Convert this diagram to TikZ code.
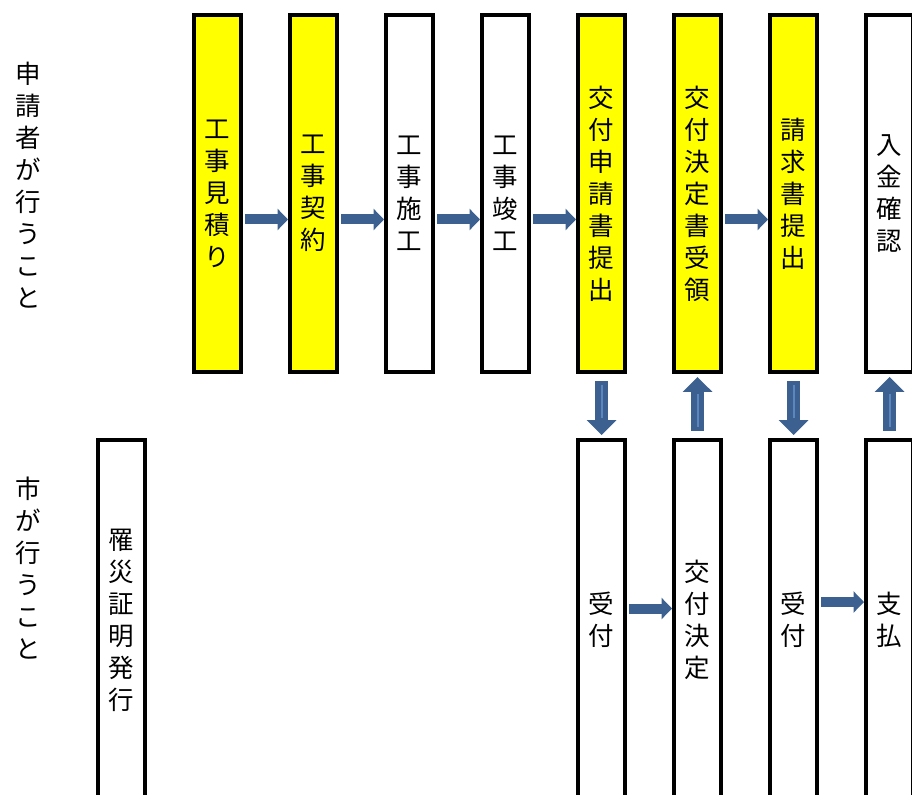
\documentclass[tikz,border=0pt]{standalone}
\usepackage{fontspec}
\newfontfamily\jpfont{Noto Sans CJK JP}
\usetikzlibrary{arrows.meta,positioning}

\definecolor{arrowblue}{HTML}{3C6191}
\definecolor{stripeblue}{HTML}{5C86BE}
\definecolor{boxyellow}{HTML}{FFFF00}

\tikzset{
  tatefont/.style={font=\jpfont\fontsize{14.5pt}{18.2pt}\selectfont},
  stepbox/.style={draw, line width=0.08cm, minimum width=0.94cm, inner sep=0pt, outer sep=0pt, align=center, tatefont},
  topbox/.style={stepbox, minimum height=7.14cm},
  citybox/.style={stepbox, minimum height=7.2cm},
  hot/.style={fill=boxyellow},
  rowtitle/.style={align=center, inner sep=0pt, tatefont},
  harrow/.style={arrowblue, line width=0.2cm, -{Triangle[width=0.42cm,length=0.21cm]}, shorten <=0.08cm, shorten >=0.04cm},
  varrow/.style={arrowblue, line width=0.26cm, -{Triangle[width=0.58cm,length=0.3cm]}, shorten <=0.18cm, shorten >=0.1cm},
  stripe/.style={stripeblue, line width=0.04cm, shorten <=0.26cm, shorten >=0.45cm}
}

\begin{document}
\begin{tikzpicture}[x=0.02cm, y=-0.02cm]

      \clip (0,0) rectangle (912,794);

      \node[rowtitle] at (28,185) (who1) {申\\請\\者\\が\\行\\う\\こ\\と};
      \node[rowtitle] at (28,568) (who2) {市\\が\\行\\う\\こ\\と};

      % applicant
      \node[topbox,hot] at (217.5,193.5) (A1) {工\\事\\見\\積\\り};
      \node[topbox,hot] at (313.5,193.5) (A2) {工\\事\\契\\約};
      \node[topbox]     at (409.5,193.5) (A3) {工\\事\\施\\工};
      \node[topbox]     at (505.5,193.5) (A4) {工\\事\\竣\\工};
      \node[topbox,hot] at (601.5,193.5) (A5) {交\\付\\申\\請\\書\\提\\出};
      \node[topbox,hot] at (697.5,193.5) (A6) {交\\付\\決\\定\\書\\受\\領};
      \node[topbox,hot] at (793.5,193.5) (A7) {請\\求\\書\\提\\出};
      \node[topbox]     at (889.5,193.5) (A8) {入\\金\\確\\認};

      % city
      \node[citybox] at (121.5,620) (B0) {罹\\災\\証\\明\\発\\行};
      \node[citybox] at (601.5,620) (B5) {受\\付};
      \node[citybox] at (697.5,620) (B6) {交\\付\\決\\定};
      \node[citybox] at (793.5,620) (B7) {受\\付};
      \node[citybox] at (889.5,620) (B8) {支\\払};

      \draw[harrow] ([yshift=-0.52cm]A1.east)--([yshift=-0.52cm]A2.west);
      \draw[harrow] ([yshift=-0.52cm]A2.east)--([yshift=-0.52cm]A3.west);
      \draw[harrow] ([yshift=-0.52cm]A3.east)--([yshift=-0.52cm]A4.west);
      \draw[harrow] ([yshift=-0.52cm]A4.east)--([yshift=-0.52cm]A5.west);
      \draw[harrow] ([yshift=-0.52cm]A6.east)--([yshift=-0.52cm]A7.west);

      \draw[harrow] ([yshift=0.23cm]B5.east)--([yshift=0.23cm]B6.west);
      \draw[harrow] ([yshift=0.36cm]B7.east)--([yshift=0.36cm]B8.west);

      \draw[varrow] (A5.south)--(B5.north);
      \draw[varrow] (B6.north)--(A6.south);
      \draw[varrow] (A7.south)--(B7.north);
      \draw[varrow] (B8.north)--(A8.south);
      \draw[stripe] (A5.south)--(B5.north);
      \draw[stripe] (B6.north)--(A6.south);
      \draw[stripe] (A7.south)--(B7.north);
      \draw[stripe] (B8.north)--(A8.south);

    \end{tikzpicture}
\end{document}
